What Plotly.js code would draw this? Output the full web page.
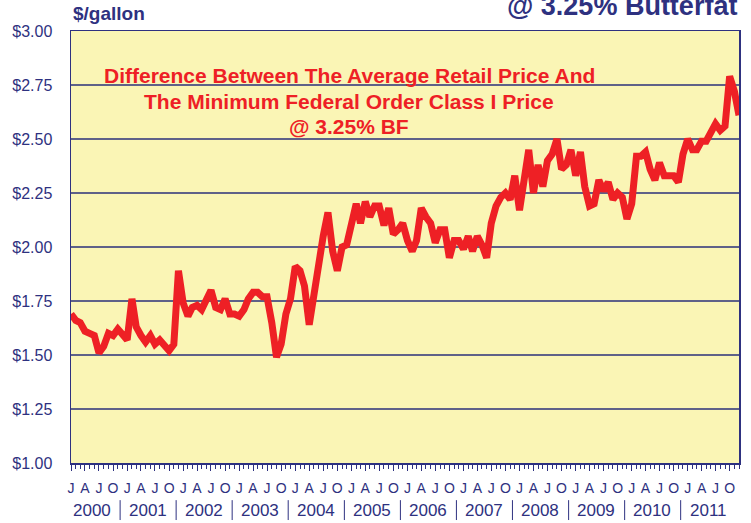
<!DOCTYPE html>
<html>
<head>
<meta charset="utf-8">
<script src="https://cdn.plot.ly/plotly-3.0.1.min.js"></script>
<style>html,body{margin:0;padding:0;background:#fff;}#chart{width:751px;height:523px;}</style>
</head>
<body>
<div id="chart"></div>
<script>
// Years covered and monthly letters
var years = [2000,2001,2002,2003,2004,2005,2006,2007,2008,2009,2010,2011];
var quarterLetters = ["J","A","J","O"];
var yTickVals = [1.00,1.25,1.50,1.75,2.00,2.25,2.50,2.75,3.00];

// Monthly spread ($/gallon), Jan 2000 - Dec 2011
var spread2000 = [1.69,1.66,1.65,1.61,1.60,1.59,1.51,1.54,1.60,1.59,1.62,1.59];
var spread2001 = [1.57,1.76,1.63,1.59,1.56,1.59,1.55,1.57,1.55,1.52,1.55,1.89];
var spread2002 = [1.74,1.68,1.72,1.73,1.71,1.75,1.80,1.72,1.71,1.76,1.69,1.69];
var spread2003 = [1.68,1.71,1.76,1.79,1.79,1.77,1.77,1.65,1.49,1.55,1.69,1.76];
var spread2004 = [1.91,1.89,1.82,1.64,1.79,1.94,2.05,2.16,1.98,1.89,2.00,2.01];
var spread2005 = [2.09,2.20,2.11,2.21,2.14,2.19,2.19,2.10,2.18,2.06,2.08,2.11];
var spread2006 = [2.03,1.98,2.03,2.18,2.14,2.11,2.02,2.08,2.08,1.95,2.03,2.03];
var spread2007 = [1.99,2.05,1.98,2.05,2.01,1.95,2.11,2.19,2.23,2.25,2.22,2.33];
var spread2008 = [2.17,2.30,2.45,2.25,2.38,2.28,2.40,2.43,2.50,2.36,2.38,2.45];
var spread2009 = [2.33,2.44,2.28,2.19,2.20,2.31,2.26,2.30,2.22,2.25,2.23,2.13];
var spread2010 = [2.20,2.42,2.42,2.44,2.36,2.31,2.39,2.33,2.33,2.33,2.30,2.43];
var spread2011 = [2.50,2.45,2.45,2.49,2.49,2.53,2.57,2.54,2.56,2.79,2.72,2.61];

var spreadByYear = [spread2000,spread2001,spread2002,spread2003,spread2004,spread2005,
                    spread2006,spread2007,spread2008,spread2009,spread2010,spread2011];

function pad(n){return (n<10?'0':'')+n;}
var xDates = [], yVals = [];
years.forEach(function(yr, yi){
  spreadByYear[yi].forEach(function(v, m){
    xDates.push(yr + '-' + pad(m+1) + '-01');
    yVals.push(v);
  });
});

// Quarter ticks (J A J O)
var tickVals = [], tickText = [];
years.forEach(function(yr){
  [1,4,7,10].forEach(function(m, k){
    tickVals.push(yr + '-' + pad(m) + '-01');
    tickText.push(quarterLetters[k]);
  });
});

var navy = '#2E3180';
var red = '#EE2025';

var annotations = [];
var shapes = [];
years.forEach(function(yr, yi){
  annotations.push({
    xref:'x', yref:'paper', x: yr + '-05-16', y: -0.109,
    text: String(yr), showarrow:false, xanchor:'center', yanchor:'middle',
    font:{family:'Liberation Sans, Arial, sans-serif', size:17, color:navy}
  });
  if (yi > 0) {
    shapes.push({
      type:'line', xref:'x', yref:'paper',
      x0:(yr-1) + '-11-16', x1:(yr-1) + '-11-16', y0:-0.086, y1:-0.132,
      line:{color:navy, width:1}
    });
  }
});

annotations.push({
  xref:'paper', yref:'paper', x:0, y:1.04, xanchor:'left', yanchor:'middle',
  text:'<b>$/gallon</b>', showarrow:false,
  font:{family:'Liberation Sans, Arial, sans-serif', size:19, color:navy}
});
annotations.push({
  xref:'paper', yref:'paper', x:1, y:1.058, xanchor:'right', yanchor:'middle',
  text:'<b>@ 3.25% Butterfat</b>', showarrow:false,
  font:{family:'Liberation Sans, Arial, sans-serif', size:27, color:navy}
});
var innerLines = ['Difference Between The Average Retail Price And',
                  'The Minimum Federal Order Class I Price',
                  '@ 3.25% BF'];
var innerY = [75, 101, 126];
innerLines.forEach(function(t, k){
  annotations.push({
    xref:'paper', yref:'paper', x:(349-71)/668, y:(463-innerY[k])/432,
    xanchor:'center', yanchor:'middle', text:'<b>'+t+'</b>', showarrow:false,
    font:{family:'Liberation Sans, Arial, sans-serif', size:21, color:red}
  });
});

var trace = {
  x: xDates, y: yVals, type:'scatter', mode:'lines',
  line:{color:red, width:7}, hoverinfo:'skip'
};

var layout = {
  width:751, height:523,
  margin:{l:71, r:12, t:31, b:60},
  paper_bgcolor:'#ffffff', plot_bgcolor:'#FAF5B5',
  showlegend:false,
  font:{family:'Liberation Sans, Arial, sans-serif', color:navy},
  xaxis:{
    type:'date', range:['2000-01-01','2011-12-01'],
    tickmode:'array', tickvals:tickVals, ticktext:tickText,
    ticks:'outside', ticklen:6, tickwidth:1, tickcolor:navy,
    minor:{dtick:'M1', tick0:'2000-01-01', ticks:'outside', ticklen:4, tickcolor:navy, tickwidth:1, showgrid:false},
    showgrid:false, zeroline:false,
    showline:true, linecolor:navy, linewidth:1.5, mirror:true,
    tickfont:{size:14, color:navy}, ticklabelstandoff:6
  },
  yaxis:{
    range:[1,3], tickmode:'array', tickvals:yTickVals,
    tickformat:'$.2f', ticks:'', ticklabelstandoff:14,
    showgrid:true, gridcolor:'#5E6188', gridwidth:1.5,
    zeroline:false, showline:true, linecolor:navy, linewidth:1.5, mirror:true,
    tickfont:{size:16, color:navy}
  },
  annotations: annotations,
  shapes: shapes
};

Plotly.newPlot('chart', [trace], layout, {displayModeBar:false, staticPlot:true});
</script>
</body>
</html>
